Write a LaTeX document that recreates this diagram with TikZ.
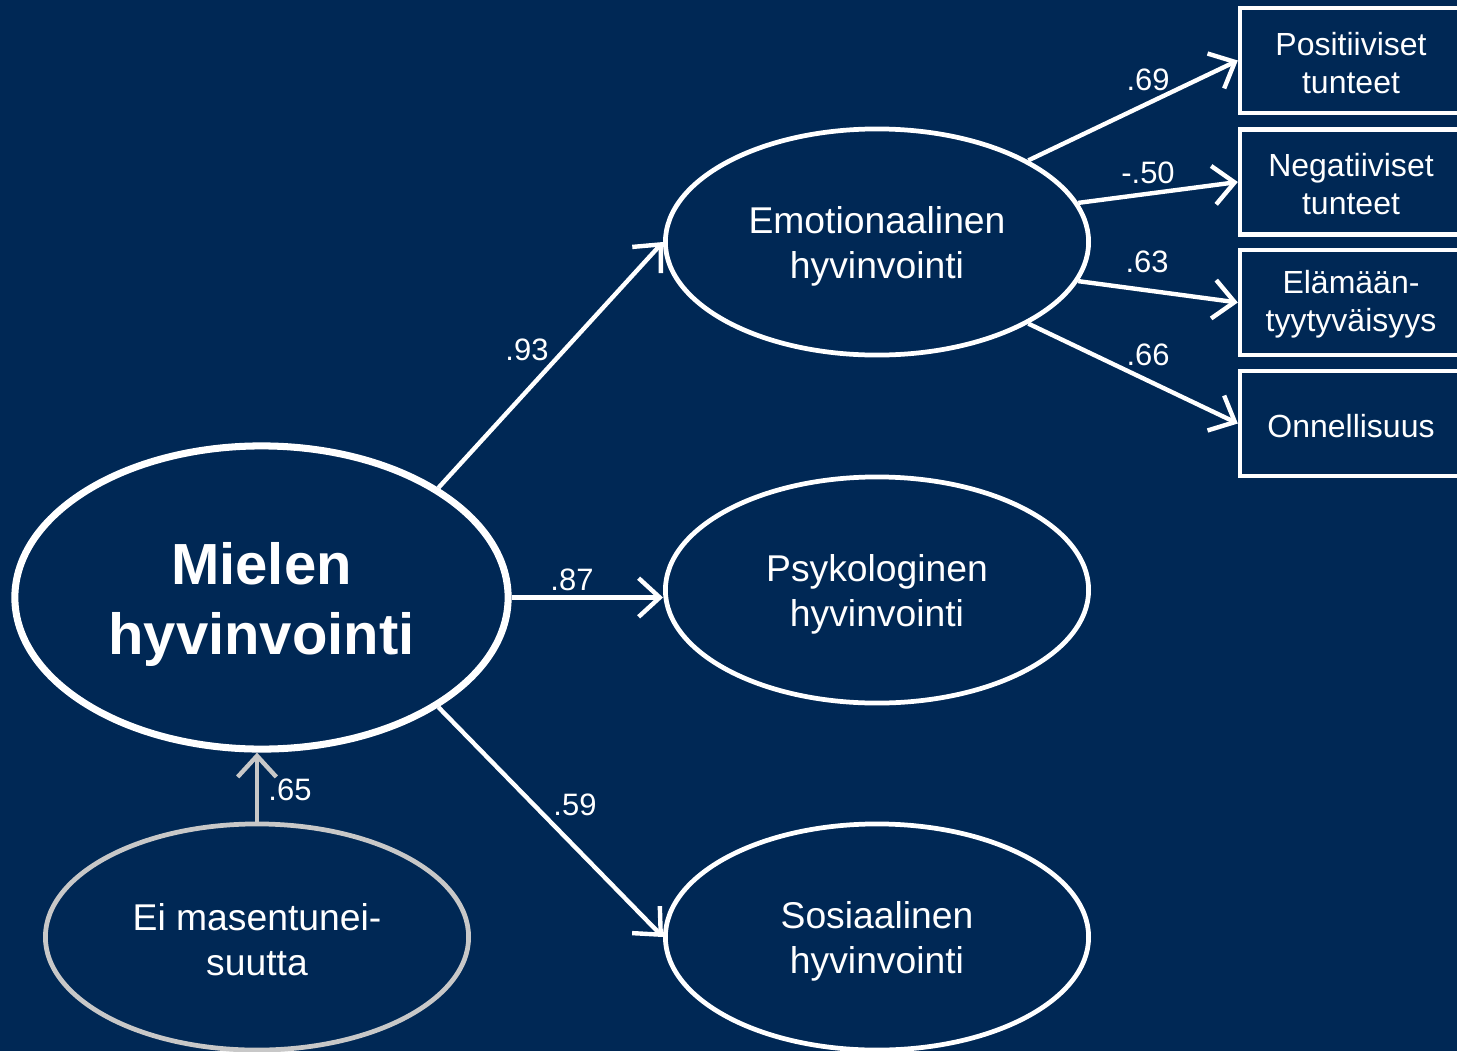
\documentclass[tikz,border=0pt]{standalone}
\usepackage{fontspec}
\setmainfont{Liberation Sans}
\usetikzlibrary{arrows.meta,shapes.geometric}
\definecolor{bg}{RGB}{0,40,85}
\definecolor{greyline}{RGB}{200,200,200}
\newcommand\dnl[2][1.2pt]{\raisebox{-#1}[\height][\depth]{#2}}
\begin{document}
\begin{tikzpicture}[x=0.01cm,y=-0.01cm,
  every node/.style={text=white},
  lat/.style={ellipse, draw=white, line width=1.35pt, minimum width=4.23cm, minimum height=2.26cm, inner sep=0pt, align=center, font=\fontsize{10.6}{12.8}\selectfont},
  obs/.style={rectangle, draw=white, line width=1.2pt, minimum width=2.22cm, minimum height=1.05cm, inner sep=0pt, align=center, font=\fontsize{9.1}{10.8}\selectfont},
  conn/.style={draw=white, line width=1.25pt, -{Straight Barb[length=6pt,width=11pt]}},
  lbl/.style={inner sep=0pt, font=\fontsize{8.8}{10}\selectfont}
]
\useasboundingbox (0,0) rectangle (1457,1051);
\clip (0,0) rectangle (1457,1051);
\fill[bg] (0,0) rectangle (1457,1051);

\node[ellipse, draw=white, line width=2pt, minimum width=4.93cm, minimum height=3.03cm, inner sep=0pt, align=center, font=\fontsize{16.5}{19.9}\selectfont\bfseries] (m) at (261.5,597.5) {\dnl[2.1pt]{Mielen}\\\dnl[2.1pt]{hyvinvointi}};

\node[lat] (emo) at (877,242) {\dnl{Emotionaalinen}\\\dnl{hyvinvointi}};
\node[lat] (psy) at (877,590) {\dnl{Psykologinen}\\\dnl{hyvinvointi}};
\node[lat] (sos) at (877,937) {\dnl{Sosiaalinen}\\\dnl{hyvinvointi}};
\node[lat, draw=greyline] (ei) at (257,937) {\dnl[0.7pt]{Ei masentunei-}\\\dnl[0.7pt]{suutta}};

\node[obs] (b1) at (1351,60.5) {\dnl[0.6pt]{Positiiviset}\\\dnl[0.6pt]{tunteet}};
\node[obs] (b2) at (1351,182) {\dnl[0.6pt]{Negatiiviset}\\\dnl[0.6pt]{tunteet}};
\node[obs] (b3) at (1351,302.5) {\dnl[0.6pt]{Elämään-}\\\dnl[0.6pt]{tyytyväisyys}};
\node[obs] (b4) at (1351,423.5) {\dnl[0.6pt]{Onnellisuus}};

\draw[conn] (m.north east) -- (emo.west);
\draw[conn] (m.east) -- (m.east -| psy.west);
\draw[conn] (m.south east) -- (sos.west);
\draw[conn, draw=greyline] (ei.north) -- (ei.north |- m.south);

\draw[conn] (emo.north east) -- (b1.west);
\draw[conn] (emo.11) -- (b2.west);
\draw[conn] (emo.-11) -- (b3.west);
\draw[conn] (emo.south east) -- (b4.west);

\node[lbl] (l93) at (527,350) {.93};
\node[lbl] (l87) at (572,580) {.87};
\node[lbl] (l59) at (575,805) {.59};
\node[lbl] (l65) at (290,790) {.65};
\node[lbl] (l69) at (1148,80) {.69};
\node[lbl] (l50) at (1148,173) {-.50};
\node[lbl] (l63) at (1147,262) {.63};
\node[lbl] (l66) at (1148,355) {.66};
\end{tikzpicture}
\end{document}
